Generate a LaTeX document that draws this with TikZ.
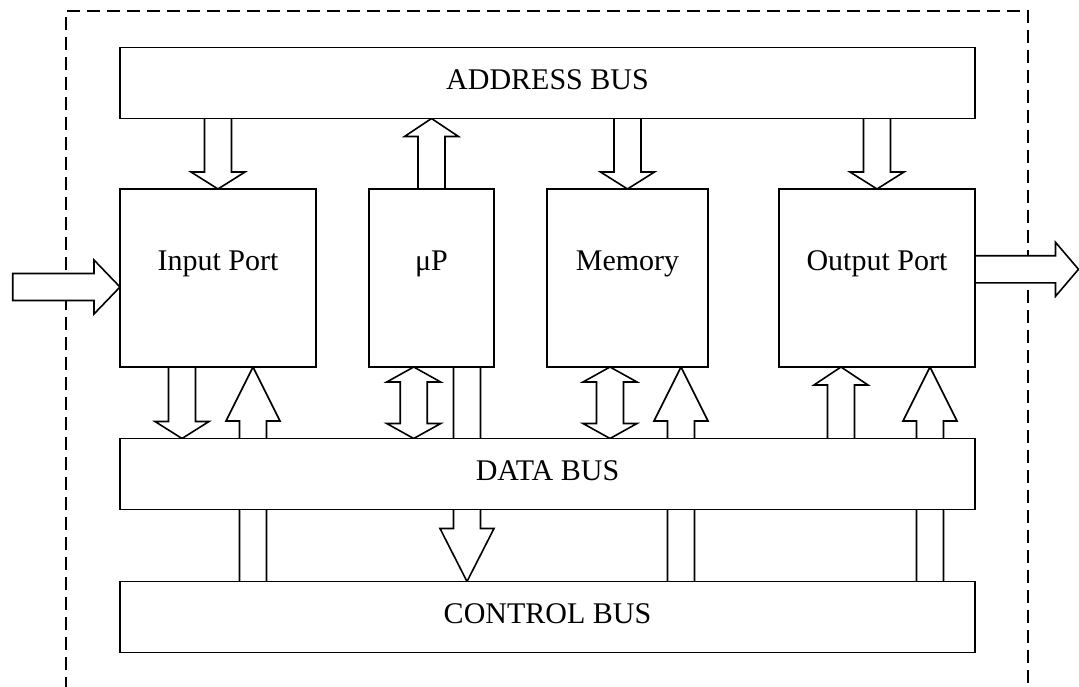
\documentclass[tikz,border=0pt]{standalone}
\usepackage{fontspec}
\setmainfont{Liberation Serif}
\usetikzlibrary{calc}
\pgfdeclarelayer{bg}
\pgfsetlayers{bg,main}

% half widths of the block arrows
\def\shaftw{13.5pt}
\def\headw{27pt}

% vertical block arrow: start (x and y), end (y only), head length
\newcommand\vbarrow[3]{%
  \draw[blk] let \p1=(#1), \p2=(#2), \n1={sign(\y2-\y1)} in
    (\x1-\shaftw,\y1) -- (\x1-\shaftw,\y2-\n1*#3) -- (\x1-\headw,\y2-\n1*#3)
    -- (\x1,\y2) -- (\x1+\headw,\y2-\n1*#3) -- (\x1+\shaftw,\y2-\n1*#3)
    -- (\x1+\shaftw,\y1);}

% vertical double-headed block arrow
\newcommand\vdarrow[3]{%
  \draw[blk] let \p1=(#1), \p2=(#2), \n1={sign(\y2-\y1)} in
    (\x1,\y1) -- (\x1+\headw,\y1+\n1*#3) -- (\x1+\shaftw,\y1+\n1*#3)
    -- (\x1+\shaftw,\y2-\n1*#3) -- (\x1+\headw,\y2-\n1*#3) -- (\x1,\y2)
    -- (\x1-\headw,\y2-\n1*#3) -- (\x1-\shaftw,\y2-\n1*#3)
    -- (\x1-\shaftw,\y1+\n1*#3) -- (\x1-\headw,\y1+\n1*#3) -- cycle;}

% horizontal block arrow: start (x and y), end (x only), head length, tail
\newcommand\hbarrow[4]{%
  \draw[blk] let \p1=(#1), \p2=(#2), \n1={sign(\x2-\x1)} in
    (\x1,\y1+\shaftw) -- (\x2-\n1*#3,\y1+\shaftw) -- (\x2-\n1*#3,\y1+\headw)
    -- (\x2,\y1) -- (\x2-\n1*#3,\y1-\headw) -- (\x2-\n1*#3,\y1-\shaftw)
    -- (\x1,\y1-\shaftw) #4;}

\begin{document}
\begin{tikzpicture}[x=1pt,y=-1pt,
  every node/.style={font=\fontsize{30}{36}\selectfont},
  unit/.style={draw, fill=white, line width=1.6pt, inner sep=0pt, outer sep=0pt,
    minimum height=178pt},
  bus/.style={draw, fill=white, line width=1.6pt, inner sep=0pt, outer sep=0pt,
    minimum width=855pt, minimum height=71pt, text depth=6pt},
  lbl/.style={inner sep=0pt},
  blk/.style={draw, fill=white, line width=1.6pt},
  frame/.style={draw, line width=1.4pt, dash pattern=on 13pt off 7pt}]
\useasboundingbox (0,0) rectangle (1079,687);

% buses
\node[bus] (addr) at (547.5,83) {ADDRESS BUS};
\node[bus] (data) at (547.5,474) {DATA BUS};
\node[bus] (ctrl) at (547.5,617) {CONTROL BUS};

% units between the address and data buses
\node[unit, minimum width=196pt] (inp)  at (218,278) {};
\node[unit, minimum width=125pt] (up)   at (431.5,278) {};
\node[unit, minimum width=161pt] (mem)  at (627.5,278) {};
\node[unit, minimum width=196pt] (outp) at (877,278) {};
\node[lbl] (tinp)  at ([yshift=14pt]inp.center)  {Input Port};
\node[lbl] (tup)   at ([yshift=14pt]up.center)   {μP};
\node[lbl] (tmem)  at ([yshift=14pt]mem.center)  {Memory};
\node[lbl] (toutp) at ([yshift=14pt]outp.center) {Output Port};

% attachment points of the arrows
\coordinate (src) at (12.7,287);
\coordinate (dst) at (1078.5,269.3);
\coordinate (ia) at (inp.north);
\coordinate (ua) at (up.north);
\coordinate (ma) at (mem.north);
\coordinate (oa) at (outp.north);
\coordinate (id) at ([xshift=-36pt]inp.south);
\coordinate (ic) at ([xshift=35pt]ctrl.north -| inp.south);
\coordinate (ud) at ([xshift=-17.8pt]up.south);
\coordinate (uc) at ([xshift=35.5pt]up.south);
\coordinate (md) at ([xshift=-17.5pt]mem.south);
\coordinate (mc) at ([xshift=53.5pt]ctrl.north -| mem.south);
\coordinate (od) at ([xshift=-36pt]data.north -| outp.south);
\coordinate (oc) at ([xshift=53pt]ctrl.north -| outp.south);

\begin{pgfonlayer}{bg}
  % system boundary, open at the bottom
  \draw[frame] (66,690) -- (66,11) -- (1028,11) -- (1028,690);

  % address bus
  \vbarrow{addr.south -| ia}{inp.north}{17pt}
  \vbarrow{ua}{addr.south}{18pt}
  \vbarrow{addr.south -| ma}{mem.north}{17pt}
  \vbarrow{addr.south -| oa}{outp.north}{17pt}

  % data bus
  \vbarrow{id}{data.north}{17pt}
  \vdarrow{ud}{data.north}{15pt}
  \vdarrow{md}{data.north}{15pt}
  \vbarrow{od}{outp.south}{18pt}

  % control bus
  \vbarrow{ic}{inp.south}{54pt}
  \vbarrow{uc}{ctrl.north}{53pt}
  \vbarrow{mc}{mem.south}{54pt}
  \vbarrow{oc}{outp.south}{54pt}

  % external ports
  \hbarrow{src}{inp.west}{26pt}{-- cycle}
  \hbarrow{outp.east |- dst}{dst}{23pt}{}
\end{pgfonlayer}
\end{tikzpicture}
\end{document}
